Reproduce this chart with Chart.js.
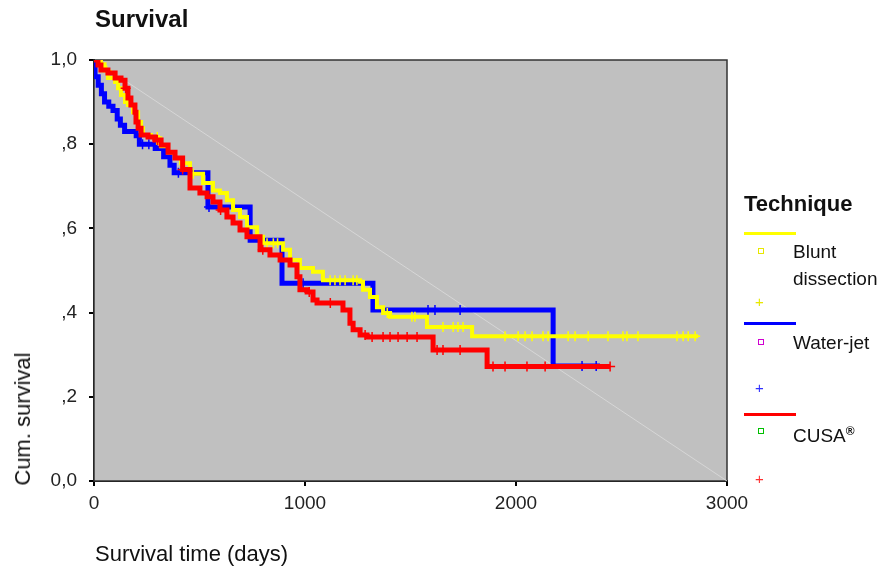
<!DOCTYPE html>
<html>
<head>
<meta charset="UTF-8">
<title>Survival</title>
<script src="https://cdn.jsdelivr.net/npm/chart.js"></script>
<style>
body{margin:0;background:#fff;font-family:'Liberation Sans',Arial,sans-serif;color:#111;}
.wrap{position:relative;width:878px;height:573px;overflow:hidden;}
canvas{position:absolute;left:0;top:0;}
.lbl{position:absolute;white-space:nowrap;}
.title{left:95px;top:5px;font-size:24px;font-weight:bold;}
.ylab{left:23px;top:419px;font-size:22px;transform:translate(-50%,-50%) rotate(-90deg);}
.xlab{left:95px;top:541px;font-size:22px;}
.leg{font-size:19px;line-height:27px;}
.sw{position:absolute;left:744px;width:52px;height:3px;}
.sq{position:absolute;left:758px;width:4px;height:4px;border:1.5px solid;}
.pl{position:absolute;left:755px;font-size:15px;line-height:15px;}
</style>
</head>
<body>
<div class="wrap">
<canvas id="c" width="878" height="573"></canvas>
<div class="lbl title">Survival</div>
<div class="lbl ylab">Cum. survival</div>
<div class="lbl xlab">Survival time (days)</div>

<div class="lbl" style="left:744px;top:191px;font-size:22px;font-weight:bold;">Technique</div>
<div class="sw" style="top:232px;background:#ffff00;"></div>
<div class="sq" style="top:248px;border-color:#e8e800;"></div>
<div class="lbl leg" style="left:793px;top:238px;">Blunt<br>dissection</div>
<div class="pl" style="top:294px;color:#e8e800;">+</div>
<div class="sw" style="top:322px;background:#0000ff;"></div>
<div class="sq" style="top:339px;border-color:#d000d0;"></div>
<div class="lbl leg" style="left:793px;top:329px;">Water-jet</div>
<div class="pl" style="top:380px;color:#3030ff;">+</div>
<div class="sw" style="top:413px;background:#ff0000;"></div>
<div class="sq" style="top:428px;border-color:#00c000;"></div>
<div class="lbl leg" style="left:793px;top:418px;">CUSA<sup style="font-size:12px;font-weight:bold;">®</sup></div>
<div class="pl" style="top:471px;color:#ff3030;">+</div>
</div>

<script>
// step curves: time (days) and survival after the drop
const blueT = [0,5,20,35,50,70,90,110,125,145,200,215,290,330,360,380,540,740,891,1322,2176,2398];
const blueS = [1,0.96,0.94,0.92,0.90,0.89,0.88,0.86,0.845,0.83,0.82,0.80,0.79,0.77,0.75,0.732,0.651,0.572,0.470,0.406,0.273,0.273];
const blueCens = [230,260,400,545,991,1583,1616,1735,2313,2380];

const yellowT = [0,33,50,66,100,114,128,147,161,185,209,223,232,270,303,318,351,384,412,455,517,564,597,630,659,692,725,773,801,882,896,929,976,1038,1085,1261,1275,1308,1341,1370,1403,1578,1792,2863];
const yellowS = [1,0.99,0.975,0.957,0.948,0.933,0.917,0.90,0.893,0.876,0.853,0.838,0.822,0.817,0.803,0.795,0.78,0.767,0.755,0.73,0.708,0.69,0.684,0.667,0.644,0.627,0.603,0.58,0.565,0.565,0.549,0.525,0.506,0.497,0.477,0.473,0.454,0.437,0.413,0.399,0.39,0.366,0.344,0.344];
const yellowCens = [60,300,470,820,850,870,1119,1142,1166,1190,1228,1246,1390,1507,1521,1654,1702,1725,1749,1948,2010,2043,2076,2128,2152,2247,2280,2342,2436,2507,2526,2578,2763,2792,2816,2849];

const redT = [0,19,33,66,100,128,147,161,175,194,199,209,223,256,289,318,351,384,420,455,502,536,564,597,630,659,692,725,787,834,882,929,962,976,1010,1038,1057,1180,1213,1228,1261,1294,1607,1863,2446];
const redS = [1,0.988,0.976,0.969,0.957,0.952,0.933,0.91,0.893,0.876,0.853,0.838,0.822,0.817,0.81,0.798,0.781,0.767,0.74,0.696,0.684,0.675,0.663,0.644,0.627,0.613,0.596,0.58,0.549,0.537,0.525,0.513,0.485,0.454,0.449,0.43,0.423,0.406,0.375,0.359,0.347,0.342,0.311,0.272,0.272];
const redCens = [150,300,420,600,800,1020,1120,1285,1318,1370,1403,1441,1484,1531,1626,1654,1735,1891,1948,2052,2138,2446];

const xTicks = [0,1000,2000,3000];
const xTickText = ['0','1000','2000','3000'];
const yTicks = [0,0.2,0.4,0.6,0.8,1.0];
const yTickText = ['0,0',',2',',4',',6',',8','1,0'];

function pts(ts, ss){ return ts.map((t,i)=>({x:t,y:ss[i]})); }
function cens(times, ts, ss){
  return times.map(c=>{
    let k=0;
    for(let i=0;i<ts.length;i++){ if(ts[i]<=c) k=i; }
    return {x:c,y:ss[k]};
  });
}

function stepSet(data,color,w,ord){
  return {type:'line',data:data,borderColor:color,borderWidth:w,stepped:'before',pointRadius:0,fill:false,order:ord};
}
function censSet(data,color,ord){
  return {type:'scatter',data:data,pointStyle:'cross',pointRadius:5,borderWidth:1.5,borderColor:color,backgroundColor:color,order:ord};
}

const plotBg = {
  id:'plotBg',
  beforeDatasetsDraw(chart){
    const a=chart.chartArea, ctx=chart.ctx;
    ctx.save();
    ctx.fillStyle='#c0c0c0';
    ctx.fillRect(a.left,a.top,a.right-a.left,a.bottom-a.top);
    ctx.strokeStyle='#333';
    ctx.lineWidth=1.5;
    ctx.strokeRect(a.left,a.top,a.right-a.left,a.bottom-a.top);
    ctx.restore();
  }
};

new Chart(document.getElementById('c'),{
  data:{
    datasets:[
      {type:'line',data:[{x:0,y:1},{x:3000,y:0}],borderColor:'#d6d6d6',borderWidth:1,pointRadius:0,order:10},
      stepSet(pts(blueT,blueS),'#0000ff',5,6),
      censSet(cens(blueCens,blueT,blueS),'#0000ff',5),
      stepSet(pts(yellowT,yellowS),'#ffff00',4,4),
      censSet(cens(yellowCens,yellowT,yellowS),'#ffff00',3),
      stepSet(pts(redT,redS),'#ff0000',5,2),
      censSet(cens(redCens,redT,redS),'#ff0000',1)
    ]
  },
  plugins:[plotBg],
  options:{
    responsive:false,
    animation:false,
    layout:{padding:{left:0,top:60,right:151,bottom:52}},
    plugins:{legend:{display:false},tooltip:{enabled:false}},
    scales:{
      x:{
        type:'linear',min:0,max:3000,
        afterFit:s=>{s.height=40;},
        afterBuildTicks:s=>{s.ticks=xTicks.map(v=>({value:v}));},
        grid:{drawOnChartArea:false,color:'#000',tickLength:5,lineWidth:2},
        border:{color:'#000',width:2},
        ticks:{color:'#222',font:{family:'Liberation Sans',size:19},padding:6,
          callback:(v,i)=>xTickText[i]}
      },
      y:{
        type:'linear',min:0,max:1,
        afterFit:s=>{s.width=94;},
        afterBuildTicks:s=>{s.ticks=yTicks.map(v=>({value:v}));},
        grid:{drawOnChartArea:false,color:'#000',tickLength:5,lineWidth:2},
        border:{color:'#000',width:2},
        ticks:{color:'#222',font:{family:'Liberation Sans',size:19},padding:12,
          callback:(v,i)=>yTickText[i]}
      }
    }
  }
});
</script>
</body>
</html>
